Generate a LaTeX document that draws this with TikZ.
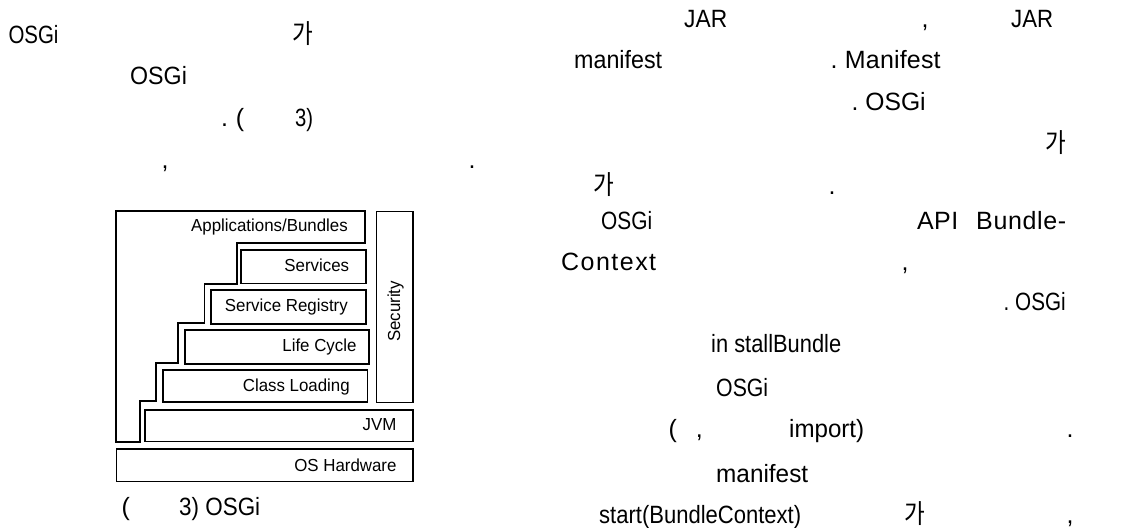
\documentclass[tikz,border=0pt]{standalone}
\usepackage{fontspec}
\usepackage{graphicx}
\setmainfont{Liberation Sans}
\newfontfamily\bodyf{Liberation Sans}
\newfontfamily\labf[FakeStretch=0.97]{Liberation Sans}
\newfontfamily\krf[FakeStretch=0.85]{Noto Sans CJK KR}
\newdimen\swd
\makeatletter
\def\sw#1#2{\setbox0\hbox{#2}\swd=\wd0\relax
  \ifdim\swd>#1pt\relax
    \pgfmathsetmacro\swr{#1/\swd}\scalebox{\swr}[1]{#2}%
  \else
    \makebox[#1pt][s]{\sw@first#2\relax}%
  \fi}
\def\sw@first#1{#1\sw@rest}
\def\sw@rest#1{\ifx#1\relax\else\hfil#1\expandafter\sw@rest\fi}
\makeatother
\tikzset{
  layer/.style={draw, line width=1.7pt, inner sep=0pt, anchor=north west},
  lab/.style={font={\labf\fontsize{17.4pt}{20pt}\selectfont}, anchor=base east, inner sep=0pt},
  body/.style={font={\bodyf\fontsize{25pt}{29pt}\selectfont}, anchor=base west, inner sep=0pt},
  kr/.style={font={\krf\fontsize{26.5pt}{30pt}\selectfont}, anchor=base west, inner sep=0pt}
}
\begin{document}
\begin{tikzpicture}[x=1pt,y=-1pt]
\fill[white] (0,0) rectangle (1126,527);
\useasboundingbox (0,0) rectangle (1126,527);

% ---------- left column text ----------
\node[body] (l1) at (8.3,44) {\sw{50}{OSGi}};
\node[kr] (l2) at (292,44) {가};
\node[body] (l3) at (130,84) {\sw{56.7}{OSGi}};
\node[body] (l4) at (221,126) {\sw{23}{.~(}};
\node[body] (l5) at (295,126) {\sw{18}{3)}};
\node[body] (l6) at (161.5,168) {,};
\node[body] (l7) at (468.5,168) {.};

% ---------- diagram ----------
\draw[line width=1.7pt] (115.7,210.7) -- (365,210.7) -- (365,243.3) -- (236.7,243.3)
  -- (236.7,284) -- (204.5,284) -- (204.5,323.3) -- (178.3,323.3) -- (178.3,363)
  -- (155.7,363) -- (155.7,401) -- (140,401) -- (140,441.7) -- (115.7,441.7) -- cycle;
\node[lab] (app) at (348,231.7) {Applications/Bundles};

\node[layer, minimum width=125pt, minimum height=33.4pt] (svc) at (240,249.3) {};
\node[lab] (svct) at (349.3,271.7) {Services};
\node[layer, minimum width=155pt, minimum height=34pt] (reg) at (210,289.3) {};
\node[lab] (regt) at (348,311.7) {Service Registry};
\node[layer, minimum width=184.3pt, minimum height=34pt] (lc) at (184,329.3) {};
\node[lab] (lct) at (356.7,351.7) {Life Cycle};
\node[layer, minimum width=204.7pt, minimum height=31.7pt] (cl) at (162,369.3) {};
\node[lab] (clt) at (350,391.7) {Class Loading};
\node[layer, minimum width=268.3pt, minimum height=31.4pt] (jvm) at (144,409.3) {};
\node[lab] (jvmt) at (396.7,430) {JVM};
\node[layer, minimum width=296.3pt, minimum height=32.4pt] (os) at (115.7,448.3) {};
\node[lab] (ost) at (396.7,471.7) {OS Hardware};
\node[layer, minimum width=36.6pt, minimum height=191.2pt] (sec) at (375.7,210.5) {};
\node[lab, anchor=base, rotate=90] (sect) at (400,311.5) {Security};

% caption
\node[body] (c1) at (121.5,515) {(};
\node[body] (c2) at (179,515) {\sw{81}{3)~OSGi}};

% ---------- right column text ----------
\node[body] (r1) at (684,28) {\sw{43}{JAR}};
\node[body] (r2) at (921.5,28) {,};
\node[body] (r3) at (1011,28) {\sw{42}{JAR}};
\node[body] (r4) at (574,68) {\sw{88}{manifest}};
\node[body] (r5) at (830.5,68) {\sw{110}{.~Manifest}};
\node[body] (r6) at (851.5,110) {\sw{74}{.~OSGi}};
\node[kr] (r7) at (1045,152) {가};
\node[kr] (r8) at (593,194) {가};
\node[body] (r9) at (828.5,194) {.};
\node[body] (r10) at (601,229) {\sw{51}{OSGi}};
\node[body] (r11) at (917,229) {\sw{41}{API}};
\node[body] (r12) at (976,229) {\sw{90}{Bundle-}};
\node[body] (r13) at (561,270) {\sw{95}{Context}};
\node[body] (r14) at (901.5,270) {,};
\node[body] (r15) at (1003.5,310) {\sw{62}{.~OSGi}};
\node[body] (r16) at (711,352) {\sw{130}{in~stallBundle}};
\node[body] (r17) at (716,396) {\sw{52}{OSGi}};
\node[body] (r18) at (668.5,437) {\sw{34}{(~,}};
\node[body] (r19) at (789,437) {\sw{75}{import)}};
\node[body] (r20) at (1066.5,437) {.};
\node[body] (r21) at (716,482) {\sw{92}{manifest}};
\node[body] (r22) at (599,523) {\sw{202}{start(BundleContext)}};
\node[kr] (r23) at (904,523) {가};
\node[body] (r24) at (1066.5,523) {,};
\end{tikzpicture}
\end{document}
